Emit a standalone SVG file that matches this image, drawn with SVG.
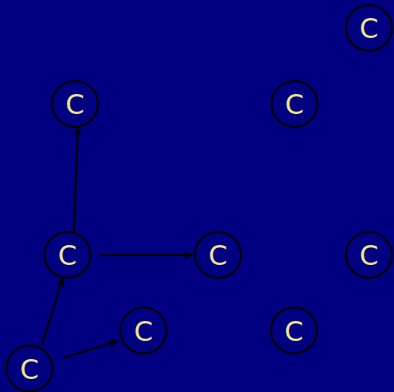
<svg xmlns="http://www.w3.org/2000/svg" width="394" height="392" viewBox="0 0 394 392">
<style>
.n circle{fill:#000080;stroke:#000;stroke-width:2}
.n text{fill:#f0e68c;font-family:"DejaVu Sans",sans-serif;font-size:27px;text-anchor:middle}
.e line{stroke:#000;stroke-width:2;marker-end:url(#a)}
</style>
<defs>
<marker id="a" viewBox="0 0 10 8" refX="9" refY="4" markerWidth="10" markerHeight="8" markerUnits="userSpaceOnUse" orient="auto">
<path d="M0,0 L10,4 L0,8 L2,4 Z" fill="#000"/>
</marker>
</defs>
<rect width="394" height="392" fill="#000080"/>
<g id="edges" class="e">
<line x1="42" y1="345" x2="63" y2="278"/>
<line x1="63" y1="358" x2="118" y2="341"/>
<line x1="101" y1="255" x2="193" y2="255"/>
<line x1="74" y1="232" x2="78" y2="127"/>
</g>
<g id="n1" class="n"><circle cx="75" cy="104" r="23"/><text x="75" y="114">C</text></g>
<g id="n2" class="n"><circle cx="294.5" cy="104" r="23"/><text x="294.5" y="114">C</text></g>
<g id="n3" class="n"><circle cx="369" cy="28" r="23"/><text x="369" y="38">C</text></g>
<g id="n4" class="n"><circle cx="67.5" cy="255" r="23"/><text x="67.5" y="265">C</text></g>
<g id="n5" class="n"><circle cx="218" cy="255" r="23"/><text x="218" y="265">C</text></g>
<g id="n6" class="n"><circle cx="369" cy="255" r="23"/><text x="369" y="265">C</text></g>
<g id="n7" class="n"><circle cx="143.5" cy="330.5" r="23"/><text x="143.5" y="340.5">C</text></g>
<g id="n8" class="n"><circle cx="294" cy="330.5" r="23"/><text x="294" y="340.5">C</text></g>
<g id="n9" class="n"><circle cx="29.5" cy="368.5" r="23"/><text x="29.5" y="378.5">C</text></g>
</svg>
